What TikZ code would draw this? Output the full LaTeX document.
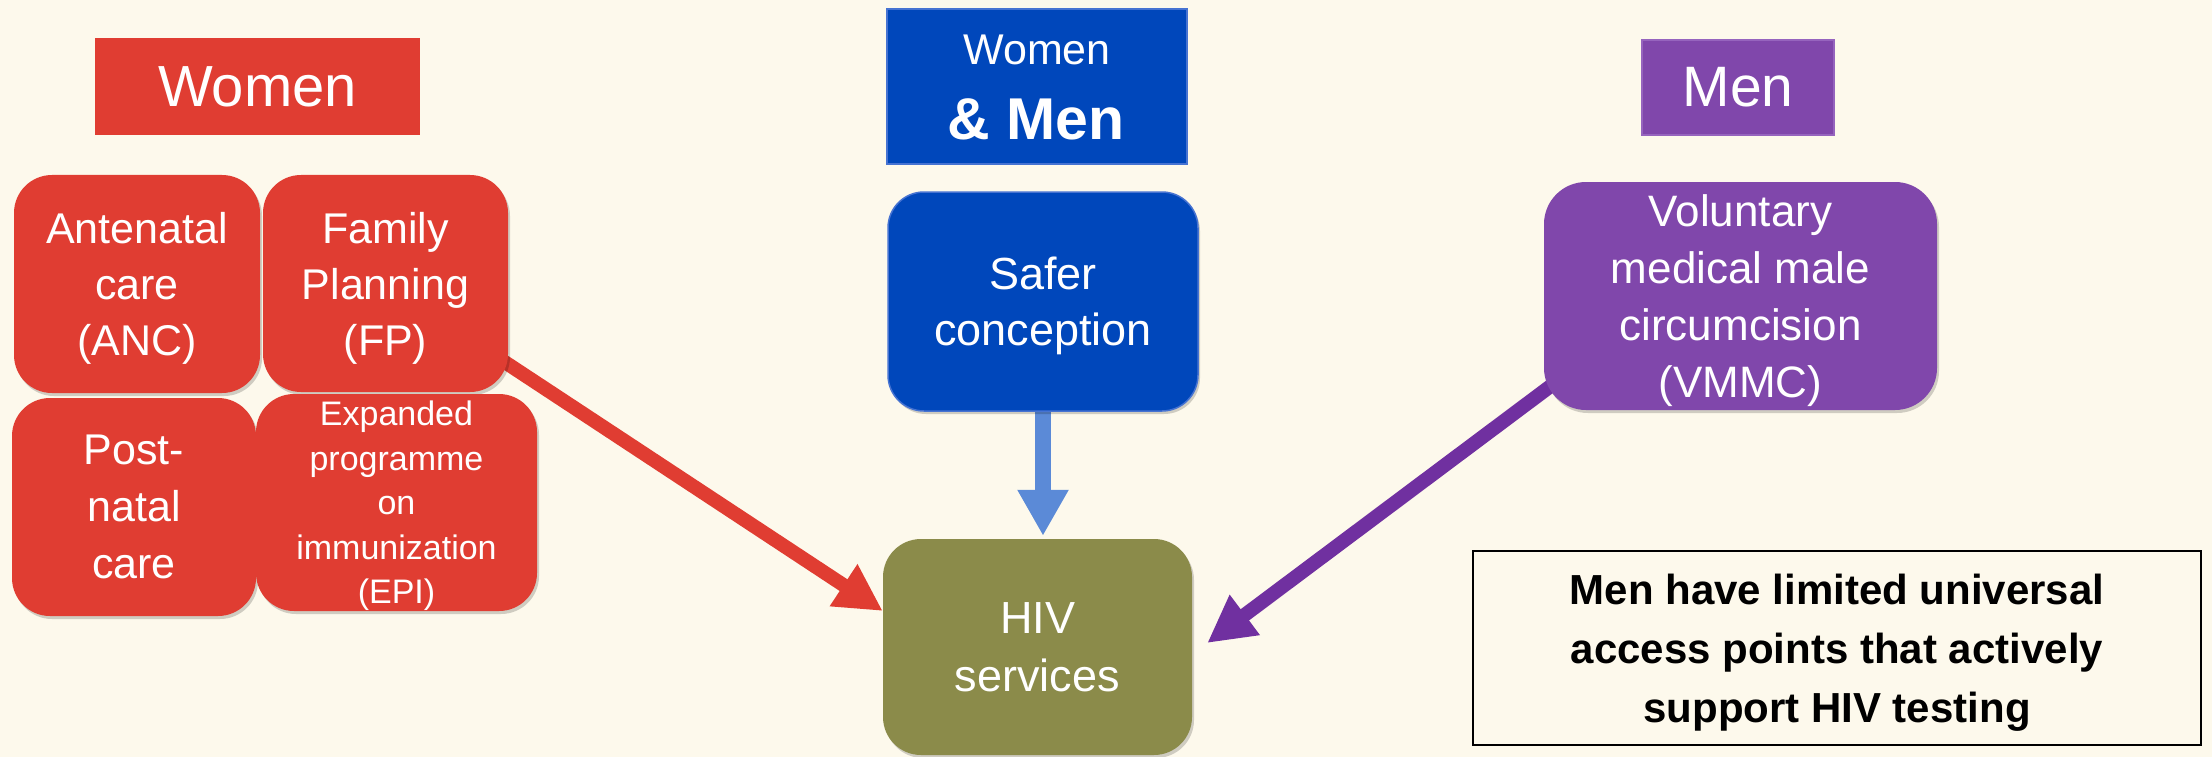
\documentclass[tikz,border=0pt]{standalone}
\usepackage{fontspec}
\setmainfont{Liberation Sans}
\usetikzlibrary{arrows.meta,shadows}
\definecolor{bgc}{HTML}{FDF9EC}
\definecolor{cred}{RGB}{224,61,50}
\definecolor{cblue}{RGB}{0,71,187}
\definecolor{cblueline}{RGB}{70,115,210}
\definecolor{cbluearrow}{RGB}{91,138,215}
\definecolor{colive}{RGB}{139,139,74}
\definecolor{cpurple}{RGB}{128,71,171}
\definecolor{cpurpleline}{RGB}{150,100,190}
\definecolor{cpurplearrow}{RGB}{112,48,160}
\pgfdeclarelayer{backfill}
\pgfdeclarelayer{arrowlayer}
\pgfsetlayers{backfill,arrowlayer,main}
\tikzset{
  shade2/.style={drop shadow={shadow xshift=2pt,shadow yshift=-3pt,opacity=0.18,fill=black}},
  card/.style={text=white, align=center, inner sep=0pt, text depth=0pt, rounded corners=38pt, shade2},
  hdr/.style={text=white, align=center, inner sep=0pt},
  fatarrow/.style={line width=14pt, -{Triangle[length=47pt,width=47pt]}},
}
\begin{document}
\begin{tikzpicture}[x=1pt,y=-1pt]
\useasboundingbox (0,0) rectangle (2212,757);
\begin{pgfonlayer}{backfill}
\fill[bgc] (0,0) rectangle (2212,757);
\end{pgfonlayer}

% headers
\node[hdr, fill=cred, minimum width=325pt, minimum height=97pt,
      font=\fontsize{58}{70}\selectfont] (hwomen) at (257.5,86.5) {Women};
\node[hdr, fill=cblue, draw=cblueline, line width=1.5pt, minimum width=300pt, minimum height=155pt] (hboth) at (1037,86.5) {};
\node[hdr, anchor=base, font=\fontsize{43}{50}\selectfont] (hbothA) at (1037,65) {Women};
\node[hdr, anchor=base, font=\fontsize{59}{70}\selectfont\bfseries] (hbothB) at (1036,140) {\& Men};
\node[hdr, fill=cpurple, draw=cpurpleline, line width=1.5pt, minimum width=192pt, minimum height=95pt,
      font=\fontsize{57}{70}\selectfont] (hmen) at (1738,87.5) {Men};

% women services
\node[card, fill=cred, minimum width=246pt, minimum height=218pt,
      font=\fontsize{43}{56}\selectfont] (anc) at (137,284) {Antenatal\\care\\(ANC)};
\node[card, fill=cred, minimum width=245pt, minimum height=217pt,
      font=\fontsize{43}{56}\selectfont] (fp) at (385.5,283.5) {Family\\Planning\\(FP)};
\node[card, fill=cred, minimum width=244pt, minimum height=218pt,
      font=\fontsize{43}{57}\selectfont] (pnc) at (134,507) {Post-\\natal\\care};
\node[card, fill=cred, minimum width=281pt, minimum height=217pt,
      font=\fontsize{34}{44.5}\selectfont] (epi) at (396.5,502.5) {Expanded\\programme\\on\\immunization\\(EPI)};

% both
\node[card, fill=cblue, draw=cblueline, line width=1.5pt, rounded corners=36pt,
      minimum width=310pt, minimum height=219pt,
      font=\fontsize{45}{56}\selectfont] (safer) at (1043,301.5) {Safer\\conception};

% HIV services
\node[card, fill=colive, minimum width=309pt, minimum height=216pt,
      font=\fontsize{45}{58}\selectfont] (hiv) at (1037.5,647) {HIV\\services};

% men
\node[card, fill=cpurple, rounded corners=42pt, minimum width=393pt, minimum height=228pt,
      font=\fontsize{44}{57}\selectfont] (vmmc) at (1740.5,296) {Voluntary\\medical male\\circumcision\\(VMMC)};

% note
\node[draw=black, line width=2pt, inner sep=0pt, text depth=0pt, align=center, text=black,
      minimum width=728pt, minimum height=194pt,
      font=\fontsize{42}{59}\selectfont\bfseries] (note) at (1837,648)
      {Men have limited universal\\access points that actively\\support HIV testing};

% arrows
\begin{pgfonlayer}{arrowlayer}
\draw[fatarrow, cred] (fp.center) -- ([yshift=36pt]hiv.west);
\draw[fatarrow, cpurplearrow] ([xshift=20pt,yshift=34pt]vmmc.south west) -- ([xshift=15pt,yshift=4pt]hiv.east);
\draw[line width=16pt, cbluearrow, -{Triangle[length=46pt,width=48pt]}] (safer.center) -- ([yshift=3pt]hiv.north -| safer.south);
\end{pgfonlayer}
\end{tikzpicture}
\end{document}
